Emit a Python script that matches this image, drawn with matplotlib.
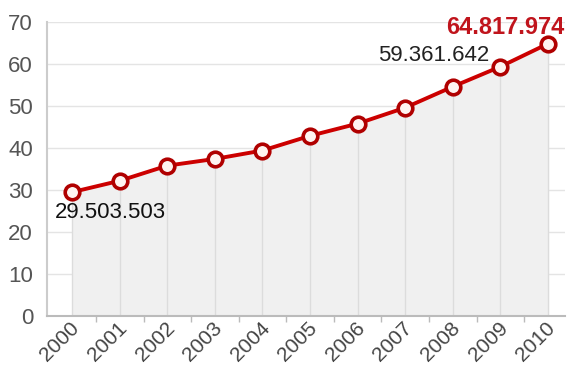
import matplotlib.pyplot as plt
import numpy as np
from matplotlib.transforms import ScaledTranslation

years = [2000, 2001, 2002, 2003, 2004, 2005, 2006, 2007, 2008, 2009, 2010]
values = [29.5, 32.2, 35.8, 37.4, 39.4, 42.9, 45.8, 49.6, 54.6, 59.36, 64.82]
y_ticks = [0, 10, 20, 30, 40, 50, 60, 70]
labels = {2000: "29.503.503", 2009: "59.361.642", 2010: "64.817.974"}

plt.rcParams['font.family'] = ['Liberation Sans', 'DejaVu Sans']

fig = plt.figure(figsize=(5.7, 3.65), dpi=100)
ax = fig.add_axes([47 / 570, 1 - 316 / 365, (565 - 47) / 570, (316 - 22) / 365])

# grid behind everything
for yt in y_ticks[1:]:
    ax.axhline(yt, color='#e4e4e4', lw=1, zorder=0)
ax.fill_between(years, 0, values, color='#f0f0f0', zorder=1)
ax.vlines(years, 0, values, color='#dcdcdc', lw=1, zorder=1)

ax.plot(years, values, color='#cc0000', lw=2.8, marker='o', ms=10.5,
        mfc='#fff3f0', mec='#b00000', mew=2.6, zorder=3)

# value labels
ax.text(2000 - 0.36, 24.6, labels[2000], fontsize=16, color='#111111',
        ha='left', va='center')
ax.text(2007.6, 62.0, labels[2009], fontsize=16, color='#222222',
        ha='center', va='center')
ax.text(2010 + 0.35, 68.7, labels[2010], fontsize=17, color='#c0141c',
        fontweight='bold', ha='right', va='center', clip_on=False)

ax.set_xlim(1999.47, 2010.36)
ax.set_ylim(0, 70)

ax.set_yticks(y_ticks)
ax.set_xticks(years)
ax.set_xticklabels([str(y) for y in years], rotation=45, ha='right', va='top')
ax.set_xticks(np.arange(2000.5, 2010, 1), minor=True)
ax.tick_params(axis='x', which='major', length=0, pad=2, labelsize=15, labelcolor='#444444')
ax.tick_params(axis='x', which='minor', length=4, color='#bbbbbb', width=1)
ax.tick_params(axis='y', length=0, pad=10, labelsize=16, labelcolor='#555555')

offset = ScaledTranslation(11 / 100, 0, fig.dpi_scale_trans)
for lab in ax.get_xticklabels():
    lab.set_transform(lab.get_transform() + offset)

for side in ['top', 'right']:
    ax.spines[side].set_visible(False)
ax.spines['left'].set_color('#cccccc')
ax.spines['left'].set_linewidth(1.5)
ax.spines['bottom'].set_color('#bbbbbb')
ax.spines['bottom'].set_linewidth(1.5)

fig.savefig('out.png', dpi=100)
